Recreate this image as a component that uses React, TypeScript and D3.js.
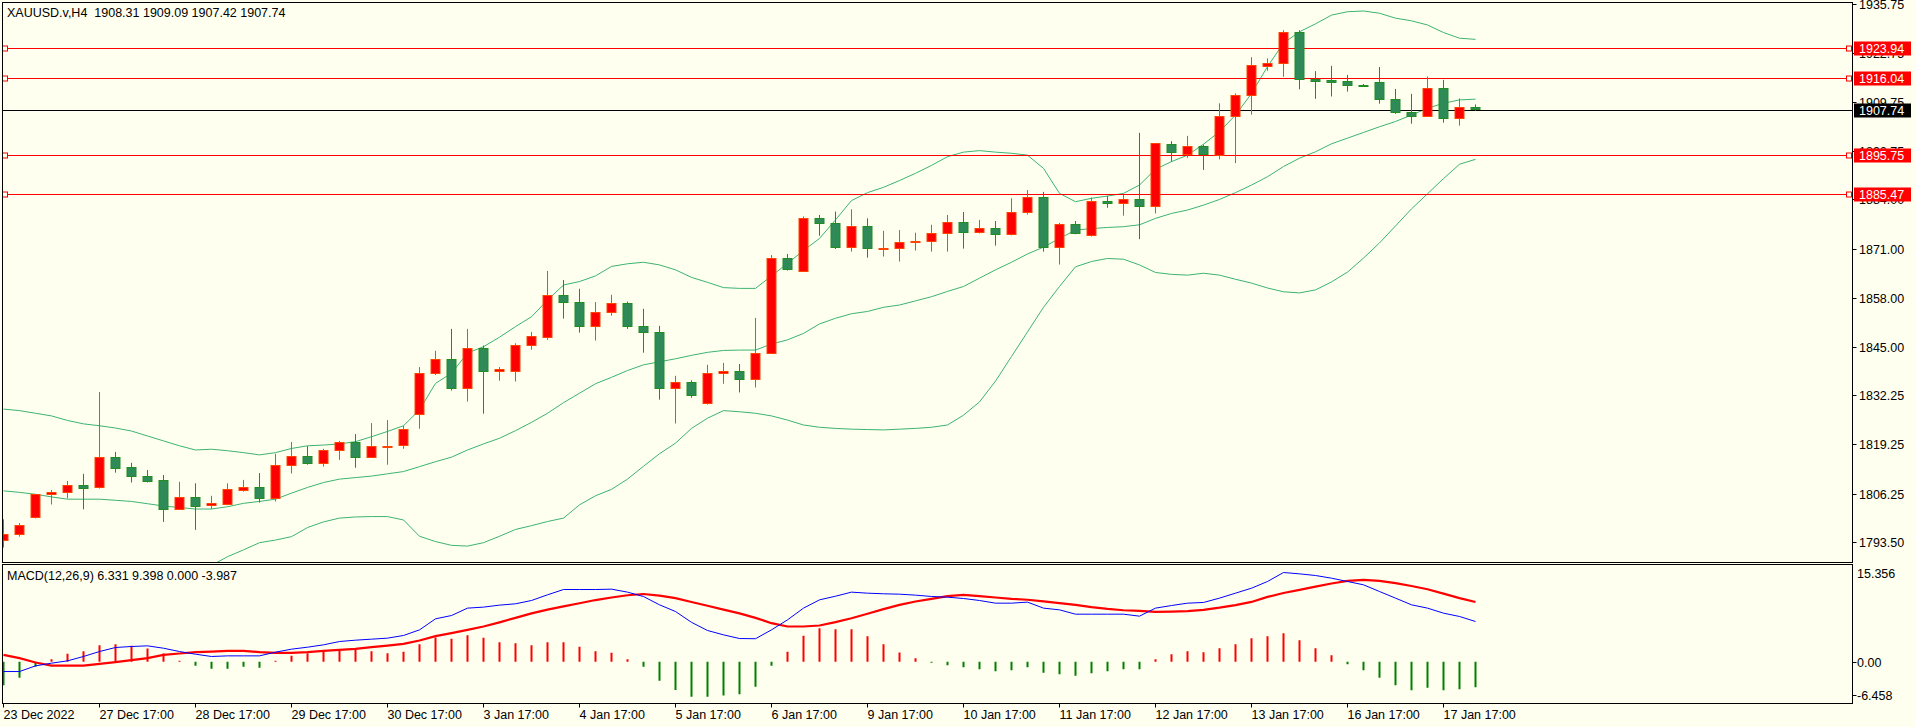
import React, { useEffect, useRef } from "react";
import * as d3 from "d3";

// XAUUSD.v H4 candles
const opens = [
  1793.9, 1795.5, 1800.0, 1806.0, 1806.6, 1808.6, 1807.9, 1815.9, 1813.2, 1810.9,
  1809.9, 1802.3, 1805.4, 1803.1, 1803.6, 1807.3, 1808.0, 1805.0, 1813.8, 1816.1,
  1814.3, 1817.7, 1819.8, 1815.9, 1818.6, 1819.0, 1827.2, 1838.0, 1841.8, 1834.1,
  1844.7, 1838.6, 1838.6, 1845.5, 1847.6, 1858.7, 1856.8, 1850.5, 1854.2, 1856.6,
  1850.5, 1848.9, 1834.0, 1835.7, 1830.1, 1838.1, 1838.6, 1836.5, 1843.4, 1868.5,
  1865.1, 1879.0, 1877.7, 1871.4, 1876.9, 1871.1, 1871.1, 1872.6, 1872.9, 1875.1,
  1878.0, 1875.3, 1876.4, 1874.8, 1880.6, 1884.6, 1871.4, 1877.4, 1874.5, 1883.5,
  1883.0, 1884.0, 1882.2, 1898.6, 1895.8, 1898.0, 1895.8, 1906.0, 1911.5, 1919.4,
  1920.1, 1928.2, 1915.9, 1915.6, 1915.2, 1914.2, 1914.9, 1910.5, 1907.0, 1906.0,
  1913.4, 1905.4, 1908.31,
];
const highs = [
  1799.5, 1798.5, 1806.1, 1807.2, 1809.6, 1811.5, 1833.1, 1817.3, 1814.4, 1812.5,
  1811.2, 1809.4, 1809.0, 1805.7, 1809.0, 1809.9, 1811.7, 1816.8, 1819.9, 1818.8,
  1818.1, 1820.2, 1822.0, 1824.9, 1825.7, 1824.2, 1839.7, 1844.0, 1849.8, 1849.8,
  1845.4, 1839.7, 1846.0, 1849.0, 1865.1, 1862.7, 1860.4, 1856.9, 1858.8, 1857.0,
  1855.1, 1850.6, 1837.4, 1836.2, 1840.3, 1840.8, 1840.5, 1852.7, 1869.3, 1869.6,
  1879.5, 1879.9, 1880.8, 1881.4, 1879.0, 1875.7, 1875.9, 1875.2, 1877.3, 1879.9,
  1880.7, 1878.6, 1878.3, 1884.3, 1886.5, 1886.0, 1877.8, 1878.3, 1884.5, 1884.9,
  1885.2, 1901.6, 1898.8, 1899.4, 1900.8, 1898.5, 1909.4, 1912.0, 1921.6, 1921.3,
  1928.7, 1928.7, 1917.9, 1919.3, 1916.9, 1914.5, 1919.0, 1913.2, 1911.9, 1916.5,
  1915.6, 1910.7, 1909.09,
];
const lows = [
  1792.0, 1794.9, 1799.7, 1803.4, 1805.0, 1802.1, 1807.6, 1811.8, 1809.2, 1809.2,
  1798.8, 1802.1, 1796.7, 1802.2, 1803.2, 1806.8, 1803.9, 1804.2, 1811.6, 1813.9,
  1813.4, 1815.2, 1813.1, 1815.9, 1813.9, 1818.1, 1823.4, 1837.6, 1833.5, 1830.6,
  1827.4, 1836.1, 1835.9, 1844.3, 1846.9, 1852.5, 1848.8, 1846.7, 1853.3, 1849.8,
  1843.5, 1831.1, 1824.8, 1831.6, 1829.8, 1835.3, 1833.0, 1834.3, 1843.4, 1865.2,
  1865.1, 1874.4, 1870.9, 1870.2, 1868.6, 1868.9, 1867.6, 1870.5, 1870.2, 1870.2,
  1871.0, 1875.0, 1871.8, 1874.5, 1880.0, 1870.2, 1866.8, 1874.8, 1874.2, 1881.8,
  1879.7, 1873.5, 1880.3, 1894.0, 1895.0, 1891.8, 1894.6, 1893.6, 1906.4, 1918.0,
  1916.4, 1913.1, 1910.6, 1911.2, 1912.5, 1914.0, 1909.3, 1906.6, 1904.0, 1905.9,
  1904.3, 1903.5, 1907.42,
];
const closes = [
  1795.6, 1798.0, 1806.1, 1806.6, 1808.5, 1807.9, 1815.9, 1813.1, 1810.8, 1809.7,
  1802.3, 1805.4, 1803.1, 1803.7, 1807.5, 1808.0, 1805.0, 1813.8, 1816.1, 1814.2,
  1817.7, 1819.8, 1815.9, 1818.8, 1818.8, 1823.3, 1838.1, 1841.8, 1834.1, 1844.7,
  1838.5, 1839.1, 1845.5, 1847.8, 1858.7, 1856.8, 1850.5, 1854.2, 1856.6, 1850.5,
  1848.9, 1834.0, 1835.7, 1832.2, 1838.1, 1838.6, 1836.5, 1843.4, 1868.5, 1865.6,
  1879.0, 1877.7, 1871.4, 1876.9, 1871.1, 1871.3, 1872.7, 1872.9, 1875.1, 1878.0,
  1875.3, 1876.4, 1874.8, 1880.6, 1884.6, 1871.4, 1877.4, 1875.0, 1883.5, 1883.0,
  1884.0, 1882.2, 1898.8, 1896.4, 1898.0, 1895.8, 1906.0, 1911.5, 1919.4, 1920.1,
  1928.2, 1915.7, 1915.5, 1915.1, 1914.1, 1914.1, 1910.4, 1907.0, 1906.0, 1913.4,
  1905.4, 1908.3, 1907.74,
];

// Bollinger bands
const bbUpper = [
  1828.6, 1828.2, 1827.5, 1826.8, 1825.6, 1824.7, 1824.2, 1823.6, 1822.8, 1821.5,
  1820.2, 1818.9, 1817.8, 1818.0, 1817.6, 1817.1, 1816.5, 1817.1, 1818.2, 1818.9,
  1819.1, 1819.4, 1820.0, 1821.3, 1822.7, 1824.2, 1828.4, 1835.4, 1838.1, 1843.4,
  1845.1, 1847.6, 1850.4, 1853.0, 1857.4, 1861.4, 1862.3, 1863.8, 1866.3, 1867.0,
  1867.4, 1866.7, 1865.4, 1863.4, 1862.1, 1860.7, 1860.5, 1860.5, 1863.8, 1867.1,
  1870.5, 1873.7, 1878.6, 1883.7, 1885.8, 1887.2, 1889.0, 1890.9, 1893.0, 1895.3,
  1896.5, 1896.9, 1896.5, 1896.2, 1895.7, 1892.2, 1885.6, 1883.4, 1884.3, 1884.9,
  1885.6, 1887.8, 1892.0, 1894.0, 1895.7, 1898.6, 1901.9, 1906.3, 1912.0, 1919.1,
  1925.3, 1928.3, 1930.4, 1932.7, 1933.6, 1933.8, 1933.2, 1931.9, 1931.2, 1930.1,
  1928.1, 1926.6, 1926.3,
];
const bbMiddle = [
  1807.0, 1806.6, 1806.1, 1805.4, 1804.8, 1804.8, 1804.8, 1804.5, 1804.2, 1803.6,
  1803.0, 1802.6, 1802.2, 1802.2, 1802.8, 1803.7, 1804.2, 1804.8, 1806.4, 1807.9,
  1809.2, 1810.1, 1810.5, 1810.9, 1811.5, 1812.1, 1813.4, 1814.7, 1815.9, 1817.8,
  1819.4, 1820.9, 1822.9, 1825.1, 1827.5, 1830.3, 1832.8, 1835.3, 1837.0, 1838.8,
  1840.3, 1841.1, 1841.9, 1842.8, 1843.6, 1844.1, 1844.2, 1844.2, 1845.8, 1846.9,
  1848.6, 1851.1, 1852.6, 1853.8, 1854.4, 1855.5, 1856.1, 1857.2, 1858.3, 1859.7,
  1861.0, 1863.2, 1865.4, 1867.4, 1869.6, 1871.4, 1873.7, 1875.9, 1876.3, 1876.6,
  1876.8, 1877.3, 1879.0, 1880.3, 1881.2, 1882.5, 1884.0, 1885.8, 1887.8, 1890.0,
  1892.7, 1894.9, 1896.6, 1898.7, 1900.2, 1901.7, 1903.2, 1904.6, 1906.3, 1908.1,
  1909.4, 1910.3, 1910.5,
];
const bbLower = [
  1785.4, 1785.0, 1784.7, 1784.0, 1784.0, 1784.9, 1785.4, 1785.4, 1785.6, 1785.7,
  1785.8, 1786.3, 1786.6, 1787.3, 1789.6, 1791.4, 1793.3, 1794.0, 1794.9, 1797.3,
  1798.8, 1799.8, 1800.1, 1800.2, 1800.2, 1799.3, 1795.0, 1793.6, 1792.6, 1792.4,
  1793.3, 1795.0, 1796.8, 1797.8, 1798.9, 1799.8, 1803.3, 1805.7, 1807.4, 1810.1,
  1813.5, 1816.8, 1819.6, 1823.5, 1826.2, 1828.2, 1827.9, 1827.5, 1826.8, 1825.7,
  1824.4, 1823.8, 1823.5, 1823.3, 1823.2, 1823.1, 1823.3, 1823.5, 1823.8, 1824.4,
  1827.0, 1830.5, 1836.0, 1842.5, 1849.0, 1855.5, 1861.0, 1866.2, 1867.6, 1868.4,
  1868.2, 1866.7, 1864.7, 1864.2, 1864.0, 1864.5, 1864.0, 1862.9, 1861.9, 1860.6,
  1859.6, 1859.3, 1860.1, 1862.2, 1864.8, 1868.5, 1872.5, 1877.0, 1881.5, 1885.5,
  1889.5, 1893.3, 1894.6,
];

// MACD(12,26,9)
const macdMain = [
  -1.52, -1.52, -0.63, -0.21, 0.16, 0.84, 1.62, 2.25, 2.41, 2.51,
  2.14, 1.62, 1.2, 0.84, 0.94, 0.94, 0.94, 1.52, 1.99, 2.3,
  2.67, 3.19, 3.4, 3.56, 3.72, 4.14, 5.02, 6.75, 7.27, 8.43,
  8.59, 8.9, 9.11, 9.63, 10.52, 11.35, 11.35, 11.35, 11.41, 10.94,
  10.25, 8.95, 7.9, 6.2, 4.92, 4.24, 3.66, 3.63, 5.02, 6.59,
  8.43, 9.73, 10.3, 10.94, 10.78, 10.68, 10.62, 10.47, 10.26, 10.15,
  9.94, 9.63, 9.21, 9.21, 9.37, 8.43, 8.16, 7.48, 7.48, 7.48,
  7.48, 7.17, 8.43, 8.84, 9.21, 9.32, 10.0, 10.78, 11.56, 12.61,
  14.02, 13.81, 13.55, 13.13, 12.61, 12.09, 11.04, 10.0, 8.95, 8.43,
  7.64, 7.12, 6.331,
];
const macdSignal = [
  1.1, 0.58, -0.1, -0.58, -0.58, -0.58, -0.31, -0.05, 0.26, 0.58,
  1.1, 1.31, 1.52, 1.62, 1.73, 1.73, 1.52, 1.41, 1.41, 1.52,
  1.73, 1.88, 2.04, 2.3, 2.56, 2.83, 3.35, 4.03, 4.5, 5.02,
  5.55, 6.2, 6.9, 7.6, 8.2, 8.7, 9.2, 9.7, 10.1, 10.45,
  10.65, 10.4, 10.0, 9.4, 8.8, 8.2, 7.6, 6.9, 6.07, 5.55,
  5.55, 5.7, 6.23, 6.85, 7.54, 8.27, 8.95, 9.47, 9.89, 10.3,
  10.5, 10.3, 10.1, 9.89, 9.75, 9.5, 9.21, 8.95, 8.6, 8.32,
  8.1, 8.0, 7.85, 7.88, 7.95, 8.16, 8.5, 8.9, 9.4, 10.2,
  10.8, 11.3, 11.8, 12.3, 12.7, 12.87, 12.7, 12.35, 11.9, 11.4,
  10.7, 10.0, 9.398,
];
const macdHist = [
  -3.66, -2.51, -0.78, 0.42, 1.26, 1.67, 2.62, 2.77, 2.51, 2.09,
  1.31, 0.16, -0.63, -1.1, -1.1, -0.78, -0.94, 0.16, 0.94, 1.36,
  1.57, 1.83, 1.94, 1.67, 1.36, 1.57, 2.77, 3.82, 3.61, 4.19,
  3.77, 3.09, 2.93, 2.62, 3.09, 3.09, 2.35, 1.67, 1.41, 0.42,
  -0.78, -2.98, -4.4, -5.49, -5.49, -5.28, -5.08, -3.92, -0.63, 1.57,
  4.08, 5.28, 5.13, 5.13, 4.03, 2.77, 1.46, 0.58, -0.16, -0.52,
  -0.84, -1.15, -1.47, -1.31, -0.84, -1.73, -1.94, -2.2, -1.78, -1.47,
  -1.15, -1.15, 0.42, 1.2, 1.67, 1.52, 2.14, 2.77, 3.72, 4.03,
  4.5, 3.4, 2.14, 1.05, -0.37, -1.31, -2.51, -3.66, -4.45, -4.08,
  -4.45, -4.29, -3.987,
];

const priceTicks = [1935.75, 1922.75, 1909.75, 1896.75, 1884.0, 1871.0, 1858.0, 1845.0, 1832.25, 1819.25, 1806.25, 1793.5];
const levelLines = [1923.94, 1916.04, 1895.75, 1885.47];
const bidPrice = 1907.74;
const macdTicks = [15.356, 0, -6.458];
const macdTickText = ["15.356", "0.00", "-6.458"];
const timeLabels = [
  "23 Dec 2022", "27 Dec 17:00", "28 Dec 17:00", "29 Dec 17:00", "30 Dec 17:00", "3 Jan 17:00",
  "4 Jan 17:00", "5 Jan 17:00", "6 Jan 17:00", "9 Jan 17:00", "10 Jan 17:00", "11 Jan 17:00",
  "12 Jan 17:00", "13 Jan 17:00", "16 Jan 17:00", "17 Jan 17:00",
];
const barsPerLabel = 6;
const headerText = "XAUUSD.v,H4  1908.31 1909.09 1907.42 1907.74";
const macdText = "MACD(12,26,9) 6.331 9.398 0.000 -3.987";

function Chart({ width, height }: { width: number; height: number }) {
  const chartRef = useRef<HTMLDivElement>(null);

  useEffect(() => {
    document.body.style.margin = "0";
    const root = d3.select(chartRef.current);
    root.selectAll("*").remove();

    const bg = "#FFFFF0";
    const svg = root
      .append("svg")
      .attr("width", width)
      .attr("height", height)
      .style("display", "block")
      .style("font-family", "'Liberation Sans', Arial, sans-serif")
      .style("font-size", "12.5px");

    svg.append("rect").attr("width", width).attr("height", height).attr("fill", bg);

    // pane geometry
    const left = 2.5;
    const right = 1852.5;
    const mainTop = 2.5;
    const mainBottom = 562.5;
    const subTop = 564.5;
    const subBottom = 703.5;

    const n = closes.length;
    const x = d3.scaleLinear().domain([0, n - 1]).range([3.5, 3.5 + 16 * (n - 1)]);
    const y = d3.scaleLinear().domain([1788.2, 1936.17]).range([562, 2]);
    const ym = d3.scaleLinear().domain([-6.458, 15.356]).range([703, 564]);

    const defs = svg.append("defs");
    defs.append("clipPath").attr("id", "clip-main")
      .append("rect").attr("x", left).attr("y", mainTop).attr("width", right - left).attr("height", mainBottom - mainTop);
    defs.append("clipPath").attr("id", "clip-sub")
      .append("rect").attr("x", left).attr("y", subTop).attr("width", right - left).attr("height", subBottom - subTop);

    const main = svg.append("g").attr("clip-path", "url(#clip-main)");
    const sub = svg.append("g").attr("clip-path", "url(#clip-sub)");

    // Bollinger bands
    const bandLine = d3.line<number>().x((_, i) => x(i)).y((d) => y(d));
    [bbUpper, bbMiddle, bbLower].forEach((band) => {
      main.append("path").attr("d", bandLine(band)).attr("fill", "none")
        .attr("stroke", "#3CB371").attr("stroke-width", 1);
    });

    // horizontal lines
    levelLines.forEach((lv) => {
      const yy = Math.round(y(lv)) + 0.5;
      main.append("line").attr("x1", left).attr("x2", right).attr("y1", yy).attr("y2", yy)
        .attr("stroke", "#FF0000").attr("stroke-width", 1);
      [5, 1849].forEach((mx) => {
        main.append("rect").attr("x", mx - 2.5).attr("y", yy - 2.5).attr("width", 5).attr("height", 5)
          .attr("fill", bg).attr("stroke", "#FF0000").attr("stroke-width", 1);
      });
    });
    const bidY = Math.round(y(bidPrice)) + 0.5;
    main.append("line").attr("x1", left).attr("x2", right).attr("y1", bidY).attr("y2", bidY)
      .attr("stroke", "#000").attr("stroke-width", 1);

    // candles
    const idx = d3.range(n);
    const candle = main.selectAll(".candle").data(idx).enter().append("g").attr("class", "candle");
    const up = (i: number) => closes[i] >= opens[i];
    candle.append("line")
      .attr("x1", (i) => x(i)).attr("x2", (i) => x(i))
      .attr("y1", (i) => y(highs[i])).attr("y2", (i) => y(lows[i]))
      .attr("stroke", (i) => (up(i) ? "#FF4500" : "#228B22"))
      .attr("stroke-width", 1);
    candle.append("rect")
      .attr("x", (i) => x(i) - 4.5)
      .attr("y", (i) => Math.round(y(Math.max(opens[i], closes[i]))) + 0.5)
      .attr("width", 9)
      .attr("height", (i) => Math.max(1, Math.round(Math.abs(y(opens[i]) - y(closes[i])))))
      .attr("fill", (i) => (up(i) ? "#FF0000" : "#2E8B57"))
      .attr("stroke", (i) => (up(i) ? "#FF4500" : "#228B22"))
      .attr("stroke-width", 1);

    // MACD histogram and lines
    sub.selectAll(".hist").data(idx).enter().append("line")
      .attr("x1", (i) => x(i)).attr("x2", (i) => x(i))
      .attr("y1", ym(0)).attr("y2", (i) => ym(macdHist[i]))
      .attr("stroke", (i) => (macdHist[i] >= 0 ? "#FF0000" : "#008000"))
      .attr("stroke-width", 2);
    const macdLine = d3.line<number>().x((_, i) => x(i)).y((d) => ym(d));
    sub.append("path").attr("d", macdLine(macdSignal)).attr("fill", "none")
      .attr("stroke", "#FF0000").attr("stroke-width", 2.2);
    sub.append("path").attr("d", macdLine(macdMain)).attr("fill", "none")
      .attr("stroke", "#0000FF").attr("stroke-width", 1);

    // frames
    svg.append("rect").attr("x", left).attr("y", mainTop).attr("width", right - left).attr("height", mainBottom - mainTop)
      .attr("fill", "none").attr("stroke", "#000");
    svg.append("rect").attr("x", left).attr("y", subTop).attr("width", right - left).attr("height", subBottom - subTop)
      .attr("fill", "none").attr("stroke", "#000");

    // captions
    svg.append("text").attr("x", 7).attr("y", 17).attr("fill", "#000")
      .style("white-space", "pre").text(headerText);
    svg.append("text").attr("x", 7).attr("y", 580).attr("fill", "#000")
      .style("white-space", "pre").text(macdText);

    // price axis
    priceTicks.forEach((p) => {
      const yy = Math.round(y(p)) + 0.5;
      svg.append("line").attr("x1", right).attr("x2", right + 4).attr("y1", yy).attr("y2", yy).attr("stroke", "#000");
      svg.append("text").attr("x", 1859).attr("y", yy + 4.5).attr("fill", "#000").text(p.toFixed(2));
    });
    levelLines.forEach((lv) => {
      const yy = Math.round(y(lv)) + 0.5;
      svg.append("rect").attr("x", 1854).attr("y", yy - 7).attr("width", 57).attr("height", 14).attr("fill", "#FF0000");
      svg.append("text").attr("x", 1859).attr("y", yy + 4.5).attr("fill", "#fff").text(lv.toFixed(2));
    });
    svg.append("rect").attr("x", 1854).attr("y", bidY - 7).attr("width", 57).attr("height", 14).attr("fill", "#000");
    svg.append("text").attr("x", 1859).attr("y", bidY + 4.5).attr("fill", "#fff").text(bidPrice.toFixed(2));

    // MACD axis
    macdTicks.forEach((v, k) => {
      const yy = Math.round(ym(v)) + 0.5;
      const ty = k === 0 ? yy + 13 : k === 2 ? yy - 4 : yy + 4.5;
      if (k > 0) {
        svg.append("line").attr("x1", right).attr("x2", right + 4).attr("y1", k === 2 ? yy - 8 : yy).attr("y2", k === 2 ? yy - 8 : yy).attr("stroke", "#000");
      }
      svg.append("text").attr("x", 1857).attr("y", ty).attr("fill", "#000").text(macdTickText[k]);
    });

    // time axis
    timeLabels.forEach((label, k) => {
      const xx = x(k * barsPerLabel);
      svg.append("line").attr("x1", xx).attr("x2", xx).attr("y1", subBottom).attr("y2", subBottom + 4).attr("stroke", "#000");
      svg.append("text").attr("x", xx).attr("y", 719).attr("fill", "#000").text(label);
    });
  }, [width, height]);

  return <div ref={chartRef}></div>;
}

export default function App() {
  return <Chart width={1916} height={727} />;
}
